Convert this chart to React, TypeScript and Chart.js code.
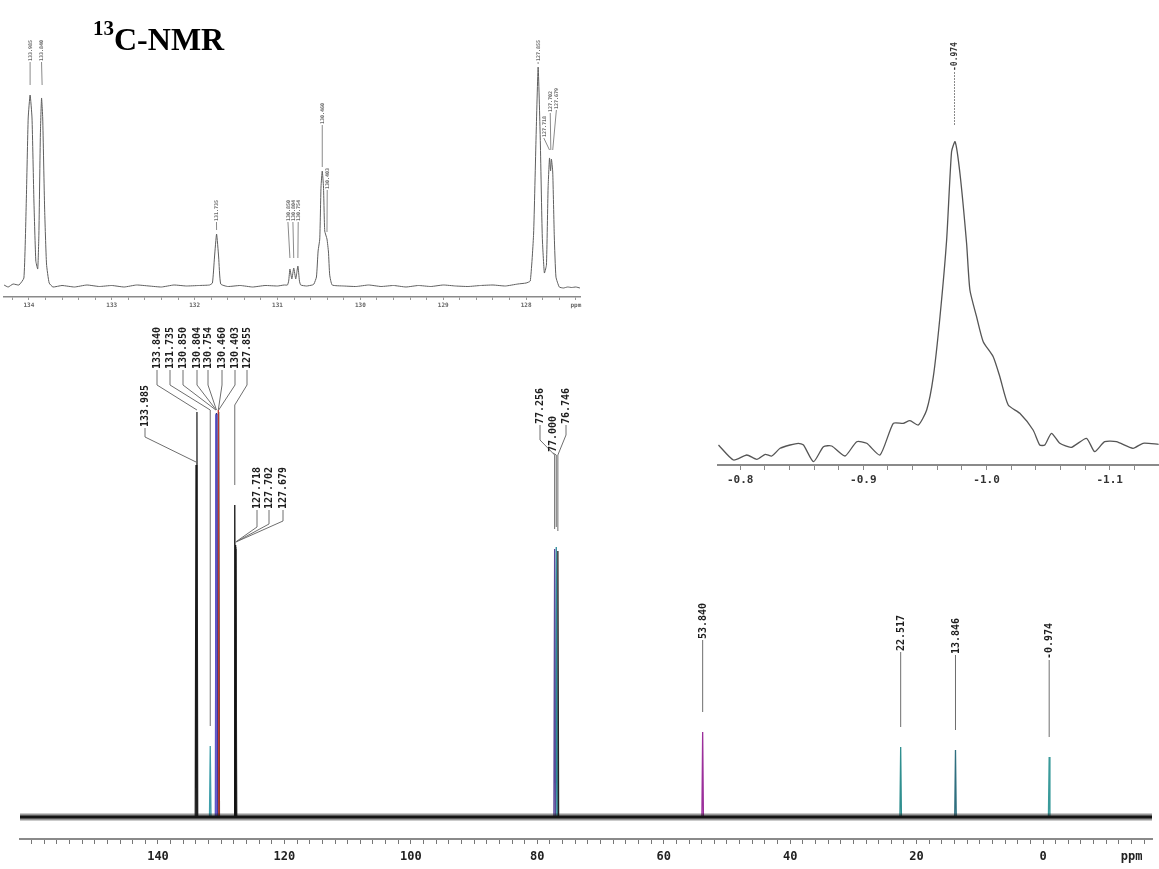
import React, { useEffect, useRef } from "react";
import { Chart, registerables } from "chart.js";

Chart.register(...registerables);

// ---------------- DATA ----------------
// Main 13C spectrum: peak positions (ppm) and heights (intensity units above baseline)
const MAIN_PEAKS = [133.985, 133.840, 131.735, 130.850, 130.804, 130.754, 130.460, 130.403, 127.855, 127.718, 127.702, 127.679, 77.256, 77.000, 76.746, 53.840, 22.517, 13.846, -0.974];
const MAIN_HEIGHTS = [352, 405, 71, 402, 403, 404, 407, 405, 312, 272, 270, 268, 268, 270, 266, 85, 70, 67, 60];
const MAIN_TICK_LABELS = [140, 120, 100, 80, 60, 40, 20, 0];
const MAIN_UNIT_AT = -14;

// Aromatic expansion (inset, top left)
const INSET_PEAKS = [133.985, 133.840, 131.735, 130.850, 130.804, 130.754, 130.460, 130.403, 127.855, 127.718, 127.702, 127.679];
const INSET_PPM = [
  134.30, 134.25, 134.19, 134.12, 134.06, 134.031, 134.008, 133.985, 133.962, 133.939, 133.916, 133.893, 133.879, 133.861, 133.847, 133.833, 133.810, 133.787, 133.755, 133.709,
  133.60, 133.45, 133.30, 133.15, 133.00, 132.85, 132.70, 132.55, 132.40, 132.25, 132.10, 131.95, 131.82, 131.785, 131.76, 131.735, 131.71, 131.685,
  131.60, 131.45, 131.30, 131.15, 131.00, 130.92, 130.88, 130.865, 130.85, 130.827, 130.804, 130.78, 130.754, 130.735, 130.72, 130.65, 130.58,
  130.56, 130.53, 130.51, 130.49, 130.475, 130.46, 130.445, 130.43, 130.403, 130.385, 130.37, 130.34,
  130.20, 130.05, 129.90, 129.75, 129.60, 129.45, 129.30, 129.15, 129.00, 128.85, 128.70, 128.55, 128.40, 128.25, 128.10, 128.00,
  127.95, 127.91, 127.88, 127.855, 127.83, 127.805, 127.78, 127.755, 127.735, 127.718, 127.705, 127.695, 127.679, 127.66, 127.64, 127.60, 127.55, 127.50, 127.45, 127.40, 127.35,
];
const INSET_INT = [
  12, 10, 13, 12, 19, 96, 179, 202, 179, 96, 36, 28, 63, 163, 199, 179, 89, 33, 14, 10,
  11.5, 10, 12, 10.5, 11.5, 10, 12, 11, 10, 12, 11, 11.5, 12, 14, 40, 63, 40, 13,
  10.5, 11.5, 10, 11.5, 11, 12, 12, 16, 28, 18, 29, 18, 31, 16, 12, 11, 12,
  13, 20, 46, 58, 110, 126, 110, 66, 58, 45, 22, 12,
  11, 10.5, 12, 10.5, 11.5, 10, 11.5, 10.5, 12, 11, 10.5, 11.5, 12, 11, 13, 14,
  16, 63, 160, 230, 160, 60, 24, 32, 109, 139, 126, 138, 125, 60, 20, 10, 9, 10, 9.5, 10, 9,
];
const INSET_UNIT_AT = 127.4;

// -0.974 expansion (inset, top right)
const ZOOM_PEAK = -0.974;
const ZOOM_PPM = [
  -0.7824, -0.7946, -0.8054, -0.8135, -0.8203, -0.8257, -0.8324, -0.8405, -0.8473, -0.8514,
  -0.8595, -0.8676, -0.8743, -0.8851, -0.8946, -0.9027, -0.9135, -0.9243, -0.9324, -0.9378,
  -0.9446, -0.9514, -0.9568, -0.9622, -0.9676, -0.9716, -0.9745, -0.9784, -0.9838, -0.9865,
  -0.9919, -0.9973, -1.0054, -1.0108, -1.0176, -1.0270, -1.0378, -1.0432, -1.0473, -1.0527,
  -1.0595, -1.0689, -1.0811, -1.0878, -1.0959, -1.1054, -1.1189, -1.1270, -1.1397,
];
const ZOOM_INT = [
  20, 5, 10, 5.7, 10.7, 9, 16.7, 20, 21.7, 20,
  3.3, 18.3, 19, 9, 23.3, 21.7, 10, 41.7, 41.7, 44.3,
  40, 55, 88.3, 148.3, 225, 313.3, 323.3, 291.7, 221.7, 175,
  148.3, 123.3, 108.3, 88.3, 60, 51.7, 35, 20, 20, 31.7,
  21.7, 17.7, 26.7, 13.3, 23.3, 23.3, 16.7, 21.7, 20.7,
];

// ---------------- LAYOUT / STYLE ----------------
const MAIN_PEAK_COLORS = ["#1a1a1a", "#2a2a2a", "#3f9fab", "#6a5acd", "#2f3fa8", "#26268a", "#c0392b", "#333333", "#111111", "#222222", "#333333", "#222222", "#5a4a9a", "#2a8a9a", "#222222", "#9b2f9b", "#2f8f8f", "#2f6f7f", "#3a9a9a"];
const MAIN_LABEL_X: (number | null)[] = [145, 157, 170, 183, 197, 208, 222, 235, 247, 257, 269, 283, 540, 553, 566, null, null, null, null];
const MAIN_LABEL_BOTTOM = [428, 370, 370, 370, 370, 370, 370, 370, 370, 510, 510, 510, 425, 453, 425, 640, 652, 655, 660];
const MAIN_LABEL_KNEE = [437, 385, 385, 385, 385, 385, 385, 385, 385, 527, 524, 521, 440, 453, 435, 640, 652, 655, 660];
const MAIN_LABEL_CONV = [462, 410, 410, 410, 410, 410, 410, 410, 405, 542, 542, 542, 455, 455, 455, 640, 652, 655, 660];
const MAIN_GAP = 20;

const INSET_LABEL_AT = [133.985, 133.847, 131.736, 130.874, 130.814, 130.75, 130.46, 130.40, 127.856, 127.787, 127.709, 127.635];
const INSET_LABEL_BOTTOM = [62, 62, 222, 222, 222, 222, 125, 190, 62, 138, 113, 110];
const INSET_LEADER_END = [85, 85, 230, 258, 258, 258, 167, 232, 64, 150, 150, 150];

const MONO = '"DejaVu Sans Mono", "Liberation Mono", monospace';

type LabelItem = {
  text: string;
  peak: number;
  lx: number | null;
  lxPpm?: number;
  bottom: number;
  knee: number;
  conv: number;
  end: number;
};

function drawLabels(chart: any, items: LabelItem[], font: string, textColor: string, lineColor: string, dash: number[]) {
  const ctx = chart.ctx as CanvasRenderingContext2D;
  const xs = chart.scales.x;
  const pos = items.map((it) => {
    const px = xs.getPixelForValue(it.peak);
    const lx = it.lx != null ? it.lx : it.lxPpm != null ? xs.getPixelForValue(it.lxPpm) : px;
    return { px, lx };
  });
  ctx.save();
  ctx.lineWidth = 1;
  ctx.strokeStyle = lineColor;
  ctx.setLineDash(dash);
  items.forEach((it, i) => {
    const { px, lx } = pos[i];
    ctx.beginPath();
    ctx.moveTo(lx, it.bottom);
    ctx.lineTo(lx, it.knee);
    ctx.lineTo(px, it.conv);
    if (it.end > it.conv) ctx.lineTo(px, it.end);
    ctx.stroke();
  });
  ctx.setLineDash([]);
  ctx.fillStyle = textColor;
  ctx.font = font;
  ctx.textAlign = "left";
  ctx.textBaseline = "middle";
  items.forEach((it, i) => {
    const { lx } = pos[i];
    ctx.save();
    ctx.translate(lx, it.bottom - 1);
    ctx.rotate(-Math.PI / 2);
    ctx.fillText(it.text, 0, 0.5);
    ctx.restore();
  });
  ctx.restore();
}

function near(a: number, b: number) {
  return Math.abs(a - b) < 1e-6;
}

// ---------------- CHART CONFIGS ----------------
function mainConfig(): any {
  const xMax = 161.83;
  const xMin = -17.24;
  const datasets: any[] = [
    {
      data: [{ x: xMax, y: 0 }, { x: xMin, y: 0 }],
      showLine: true,
      borderColor: "rgba(25,25,25,0.45)",
      borderWidth: 7,
      pointRadius: 0,
    },
    {
      data: [{ x: xMax, y: 0 }, { x: xMin, y: 0 }],
      showLine: true,
      borderColor: "#111",
      borderWidth: 3,
      pointRadius: 0,
    },
  ];
  MAIN_PEAKS.forEach((p, i) => {
    datasets.push({
      data: [
        { x: p + 0.12, y: 0 },
        { x: p, y: MAIN_HEIGHTS[i] },
        { x: p - 0.12, y: 0 },
      ],
      showLine: true,
      borderColor: MAIN_PEAK_COLORS[i],
      borderWidth: 1.3,
      pointRadius: 0,
    });
  });
  const labelPlugin = {
    id: "mainLabels",
    afterDatasetsDraw(chart: any) {
      const ys = chart.scales.y;
      const items: LabelItem[] = MAIN_PEAKS.map((p, i) => ({
        text: p.toFixed(3),
        peak: p,
        lx: MAIN_LABEL_X[i],
        bottom: MAIN_LABEL_BOTTOM[i],
        knee: MAIN_LABEL_KNEE[i],
        conv: MAIN_LABEL_CONV[i],
        end: ys.getPixelForValue(MAIN_HEIGHTS[i]) - MAIN_GAP,
      }));
      drawLabels(chart, items, `bold 10px ${MONO}`, "#1e1e1e", "#6e6e6e", []);
    },
  };
  return {
    type: "scatter",
    data: { datasets },
    options: {
      animation: false,
      responsive: false,
      devicePixelRatio: 1,
      layout: { padding: { left: 20, right: 7, top: 0, bottom: 0 } },
      plugins: { legend: { display: false }, tooltip: { enabled: false } },
      elements: { point: { radius: 0 }, line: { tension: 0 } },
      scales: {
        x: {
          type: "linear",
          reverse: true,
          min: xMin,
          max: xMax,
          afterFit: (s: any) => {
            s.height = 30;
          },
          ticks: {
            stepSize: 2,
            autoSkip: false,
            maxRotation: 0,
            includeBounds: false,
            padding: 6,
            color: "#222",
            font: { family: MONO, size: 12, weight: "bold" },
            callback: (v: any) => {
              const n = Number(v);
              const r = Math.round(n);
              if (near(n, r) && MAIN_TICK_LABELS.includes(r)) return String(r);
              if (near(n, MAIN_UNIT_AT)) return "ppm";
              return "";
            },
          },
          grid: { drawOnChartArea: false, drawTicks: true, tickLength: 5, color: "#777" },
          border: { display: true, color: "#8a8a8a", width: 2 },
        },
        y: { display: false, min: -22, max: 817 },
      },
    },
    plugins: [labelPlugin],
  };
}

function insetConfig(): any {
  const data = INSET_PPM.map((p, i) => ({ x: p, y: INSET_INT[i] }));
  const labelPlugin = {
    id: "insetLabels",
    afterDatasetsDraw(chart: any) {
      const items: LabelItem[] = INSET_PEAKS.map((p, i) => ({
        text: p.toFixed(3),
        peak: p,
        lx: null,
        lxPpm: INSET_LABEL_AT[i],
        bottom: INSET_LABEL_BOTTOM[i],
        knee: INSET_LABEL_BOTTOM[i],
        conv: INSET_LEADER_END[i],
        end: INSET_LEADER_END[i],
      }));
      drawLabels(chart, items, `bold 5px ${MONO}`, "#6a6a6a", "#8a8a8a", []);
    },
  };
  return {
    type: "scatter",
    data: {
      datasets: [
        {
          data,
          showLine: true,
          borderColor: "#5e5e5e",
          borderWidth: 1,
          pointRadius: 0,
          tension: 0.15,
        },
      ],
    },
    options: {
      animation: false,
      responsive: false,
      devicePixelRatio: 1,
      layout: { padding: { left: 4, right: 10, top: 0, bottom: 0 } },
      plugins: { legend: { display: false }, tooltip: { enabled: false } },
      scales: {
        x: {
          type: "linear",
          reverse: true,
          min: 127.35,
          max: 134.3,
          afterFit: (s: any) => {
            s.height = 18;
          },
          ticks: {
            stepSize: 0.2,
            autoSkip: false,
            maxRotation: 0,
            includeBounds: false,
            padding: 2,
            color: "#666",
            font: { family: MONO, size: 6, weight: "bold" },
            callback: (v: any) => {
              const n = Number(v);
              const r = Math.round(n);
              if (near(n, r)) return String(r);
              if (near(n, INSET_UNIT_AT)) return "ppm";
              return "";
            },
          },
          grid: { drawOnChartArea: false, drawTicks: true, tickLength: 3, color: "#999" },
          border: { display: true, color: "#8a8a8a", width: 1.5 },
        },
        y: { display: false, min: 0, max: 297 },
      },
    },
    plugins: [labelPlugin],
  };
}

function zoomConfig(): any {
  const data = ZOOM_PPM.map((p, i) => ({ x: p, y: ZOOM_INT[i] }));
  const labelPlugin = {
    id: "zoomLabel",
    afterDatasetsDraw(chart: any) {
      const items: LabelItem[] = [
        { text: ZOOM_PEAK.toFixed(3), peak: ZOOM_PEAK, lx: null, bottom: 72, knee: 72, conv: 72, end: 125 },
      ];
      drawLabels(chart, items, `bold 8px ${MONO}`, "#333", "#8a8a8a", [2, 1]);
    },
  };
  return {
    type: "scatter",
    data: {
      datasets: [
        {
          data,
          showLine: true,
          borderColor: "#555",
          borderWidth: 1.3,
          pointRadius: 0,
          tension: 0.2,
        },
      ],
    },
    options: {
      animation: false,
      responsive: false,
      devicePixelRatio: 1,
      layout: { padding: { left: 18, right: 0, top: 0, bottom: 0 } },
      plugins: { legend: { display: false }, tooltip: { enabled: false } },
      scales: {
        x: {
          type: "linear",
          reverse: true,
          min: -1.14,
          max: -0.782,
          afterFit: (s: any) => {
            s.height = 35;
          },
          ticks: {
            stepSize: 0.02,
            autoSkip: false,
            maxRotation: 0,
            includeBounds: false,
            padding: 4,
            color: "#333",
            font: { family: MONO, size: 11, weight: "bold" },
            callback: (v: any) => {
              const n = Number(v);
              if (near(n * 10, Math.round(n * 10))) return n.toFixed(1);
              return "";
            },
          },
          grid: { drawOnChartArea: false, drawTicks: true, tickLength: 5, color: "#888" },
          border: { display: true, color: "#8a8a8a", width: 2 },
        },
        y: { display: false, min: 0, max: 465 },
      },
    },
    plugins: [labelPlugin],
  };
}

// ---------------- COMPONENTS ----------------
function ChartCanvas(props: { left: number; top: number; width: number; height: number; build: () => any; z: number }) {
  const ref = useRef<HTMLCanvasElement | null>(null);
  useEffect(() => {
    if (!ref.current) return;
    const chart = new Chart(ref.current, props.build());
    return () => chart.destroy();
  }, []);
  return (
    <canvas
      ref={ref}
      width={props.width}
      height={props.height}
      style={{ position: "absolute", left: props.left, top: props.top, width: props.width, height: props.height, zIndex: props.z }}
    />
  );
}

export default function App() {
  return (
    <div style={{ position: "absolute", left: 0, top: 0, width: 1159, height: 869, background: "#fff", overflow: "hidden" }}>
      <ChartCanvas left={0} top={0} width={1159} height={869} build={mainConfig} z={1} />
      <ChartCanvas left={0} top={0} width={590} height={315} build={insetConfig} z={2} />
      <ChartCanvas left={700} top={0} width={459} height={500} build={zoomConfig} z={2} />
      <div
        style={{
          position: "absolute",
          left: 93,
          top: 23,
          zIndex: 5,
          fontFamily: '"Liberation Serif", "Times New Roman", serif',
          fontWeight: "bold",
          lineHeight: "32px",
          color: "#000",
          whiteSpace: "nowrap",
        }}
      >
        <span style={{ fontSize: 21, position: "relative", top: -15 }}>13</span>
        <span style={{ fontSize: 32 }}>C-NMR</span>
      </div>
    </div>
  );
}
